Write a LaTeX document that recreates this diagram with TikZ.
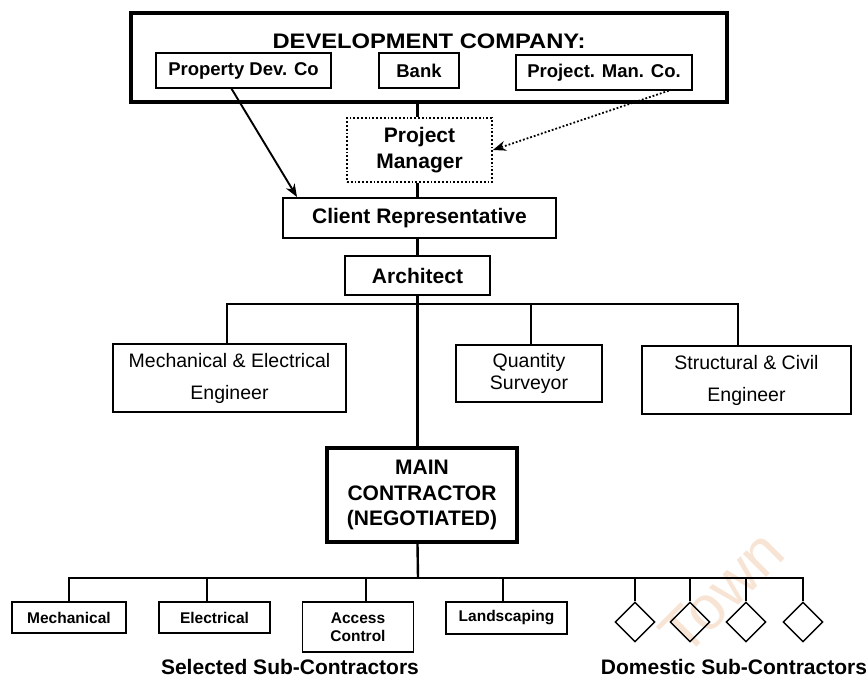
\documentclass[tikz,border=0pt]{standalone}
\usepackage{fontspec}
\setmainfont{Liberation Sans}
\newfontfamily\widefont[FakeStretch=1.13]{Liberation Sans}
\usetikzlibrary{shapes.geometric,arrows.meta}
\definecolor{wmcolor}{RGB}{248,228,212}

\begin{document}
\begin{tikzpicture}[x=1pt,y=-1pt,
  box/.style={draw, line width=1.4pt, inner sep=0pt, align=center},
  heavybox/.style={box, line width=4pt},
  midbox/.style={box, line width=2pt},
  dotbox/.style={box, line width=1.8pt, dotted},
  toplabel/.style={font=\fontsize{18.5}{22}\selectfont\bfseries},
  keylabel/.style={font=\fontsize{21}{25.5}\selectfont\bfseries},
  consultant/.style={font=\fontsize{19.5}{32}\selectfont},
  trade/.style={font=\fontsize{15.5}{18}\selectfont\bfseries},
  domestic/.style={draw, line width=1.4pt, shape=diamond, inner sep=0pt,
    minimum width=40pt, minimum height=40pt},
  link/.style={line width=1.3pt},
  trunk/.style={line width=2.4pt},
  tip/.style={-{Stealth[length=13pt,width=10pt]}}
]
\useasboundingbox (0,0) rectangle (867,682);

% faint watermark
\node[rotate=45, text=wmcolor, font=\fontsize{62}{62}\selectfont] (wmark) at (722,592) {Town};

% development company group
\node[heavybox, minimum width=596, minimum height=89] (dev) at (429,57.5) {};
\node[font=\widefont\fontsize{21}{25}\selectfont\bfseries] (devtitle) at (429,41) {DEVELOPMENT COMPANY:};
\node[box, toplabel, minimum width=175, minimum height=35] (pdc) at (243.5,70.5) {Property Dev. Co};
\node[box, toplabel, minimum width=80, minimum height=35] (bank) at (419,70.5) {Bank};
\node[box, toplabel, minimum width=176, minimum height=35] (pmc) at (604,72.5) {Project. Man. Co.};

% client side chain
\node[dotbox, keylabel, minimum width=145, minimum height=64] (pm) at (419.5,150) {Project\\Manager};
\node[midbox, keylabel, minimum width=273, minimum height=40] (cr) at (419.5,218) {Client Representative};
\node[midbox, keylabel, minimum width=145, minimum height=39] (arch) at (417.5,275.5) {Architect};

% consultants
\node[box, consultant, minimum width=233, minimum height=68] (mee) at (229.5,378) {Mechanical \& Electrical\\Engineer};
\node[box, font=\fontsize{19.5}{22}\selectfont, align=center, minimum width=146, minimum height=57] (qs) at (529,373.5) {Quantity\\Surveyor};
\node[box, consultant, minimum width=209, minimum height=68] (sce) at (746.5,380) {Structural \& Civil\\Engineer};

% main contractor
\node[heavybox, keylabel, minimum width=190, minimum height=94] (mc) at (422,495) {MAIN\\CONTRACTOR\\(NEGOTIATED)};

% selected sub-contractors
\node[box, trade, minimum width=114, minimum height=31] (mech) at (69,617.5) {Mechanical};
\node[box, trade, minimum width=111, minimum height=31] (elec) at (214.5,617.5) {Electrical};
\node[box, trade, minimum width=111, minimum height=50] (acc) at (358,627) {Access\\Control};
\node[box, trade, minimum width=121, minimum height=32] (land) at (506.5,618) {Landscaping};

% domestic sub-contractors
\node[domestic] (d1) at (635,622) {};
\node[domestic] (d2) at (690,622) {};
\node[domestic] (d3) at (746,622) {};
\node[domestic] (d4) at (803,622) {};

\node[font=\fontsize{21}{26}\selectfont\bfseries] (selcap) at (290,667) {Selected Sub-Contractors};
\node[font=\fontsize{21}{26}\selectfont\bfseries] (domcap) at (734,667) {Domestic Sub-Contractors};

% bus levels
\coordinate (busA) at (418,304);
\coordinate (busB) at (418,578);

% vertical chain of command
\draw[trunk] (dev.south -| arch.south) -- (pm.north -| arch.south);
\draw[trunk] (pm.south -| arch.south) -- (cr.north -| arch.south);
\draw[trunk] (cr.south -| arch.south) -- (arch.north);
\draw[trunk] (arch.south) -- (arch.south |- mc.north);
\draw[trunk] (arch.south |- mc.south) -- (busB);

% consultant bus
\draw[link] ([xshift=-2.5pt]mee.north) -- ([xshift=-2.5pt]mee.north |- busA)
  -- ([xshift=-8.5pt]sce.north |- busA) -- ([xshift=-8.5pt]sce.north);
\draw[link] ([xshift=2pt]qs.north) -- ([xshift=2pt]qs.north |- busA);

% sub-contractor bus
\draw[link] (mech.north) -- (mech.north |- busB) -- (d4.north |- busB) -- (d4.north);
\draw[link] ([xshift=-7.5pt]elec.north) -- ([xshift=-7.5pt]elec.north |- busB);
\draw[link] ([xshift=8pt]acc.north) -- ([xshift=8pt]acc.north |- busB);
\draw[link] ([xshift=-3.5pt]land.north) -- ([xshift=-3.5pt]land.north |- busB);
\draw[link] (d1.north) -- (d1.north |- busB);
\draw[link] (d2.north) -- (d2.north |- busB);
\draw[link] (d3.north) -- (d3.north |- busB);

% reporting arrows
\draw[line width=1.9pt, tip] ([xshift=-12pt]pdc.south) -- ([xshift=15pt]cr.north west);
\draw[line width=1.8pt, dotted, tip] ([xshift=-24pt]pmc.south east) -- (pm.east);
\end{tikzpicture}
\end{document}
